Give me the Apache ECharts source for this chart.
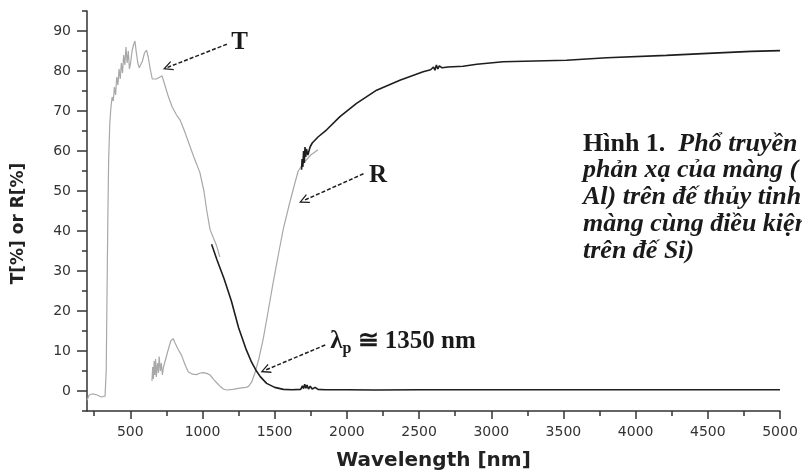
<!DOCTYPE html>
<html>
<head>
<meta charset="utf-8">
<script src="https://cdn.jsdelivr.net/npm/echarts@6/dist/echarts.min.js"></script>
<style>html,body{margin:0;padding:0;background:#fff}#c{width:802px;height:472px}</style>
</head>
<body>
<div id="c"></div>
<script>
// Tick values
const xMajorTicks = [500,1000,1500,2000,2500,3000,3500,4000,4500,5000];
const xMinorTicks = [250,750,1250,1750,2250,2750,3250,3750,4250,4750];
const yMajorTicks = [0,10,20,30,40,50,60,70,80,90];
const yMinorTicks = [-5,5,15,25,35,45,55,65,75,85,95];

// Transmission, visible detector (grey)
const tVis = [[200,-2.3],[215,-1],[240,-0.7],[270,-1],[300,-1.5],[325,-1.3],[333,5],[338,22],[344,42],[350,58],[358,67],[366,71],[374,73.5],[382,72.5],[390,76],[398,74],[406,78.5],[414,76.5],[422,80.5],[430,78],[438,82],[446,79.5],[454,84],[462,81.5],[470,86],[478,82],[486,85],[494,80.5],[502,82],[512,85],[522,86.5],[532,87.5],[542,84.5],[552,82],[562,80.8],[572,80.6],[584,82.5],[598,84.5],[612,85.2],[624,83.5],[638,80.5],[652,78],[662,77.7],[680,78],[700,78.4],[720,78.8],[735,77],[760,74],[790,71],[820,69],[844,67.8],[870,65.5],[900,62.5],[940,58.5],[982,54.6],[1010,50],[1030,45],[1052,40.4],[1075,38.3],[1098,36.3],[1120,33.5]];
// Transmission, IR detector (dark)
const tIr = [[1063,36.7],[1100,32.8],[1150,28],[1200,22.5],[1250,15.8],[1300,10.6],[1340,7.2],[1370,5.2],[1400,3.6],[1444,1.9],[1500,0.9],[1560,0.4],[1620,0.3],[1680,0.4],[1692,1.3],[1700,0.6],[1708,1.7],[1716,0.7],[1724,1.5],[1734,0.5],[1746,1.2],[1760,0.5],[1780,0.9],[1800,0.4],[1850,0.3],[2000,0.3],[2200,0.25],[2500,0.3],[3000,0.3],[3500,0.3],[4000,0.3],[4500,0.3],[5000,0.3]];
// Reflection, visible detector (grey)
const rVis = [[650,2.5],[655,6],[660,3],[665,7.5],[670,4],[675,8],[680,3.5],[688,7],[695,4.5],[700,8.6],[708,5],[715,7],[722,4],[730,6],[740,5.5],[760,10],[780,12.5],[797,13.1],[810,12],[830,10.5],[855,8.9],[880,6.5],[901,4.8],[930,4.2],[959,4.1],[985,4.5],[1005,4.6],[1030,4.4],[1052,4],[1080,2.8],[1100,2],[1121,1.2],[1145,0.5],[1167,0.25],[1210,0.4],[1259,0.7],[1300,0.9],[1317,1.1],[1340,2.2],[1363,4.5],[1390,8],[1421,13.1],[1455,20],[1490,27.2],[1525,34],[1559,40.4],[1600,46.5],[1640,52],[1663,55],[1700,57],[1750,59],[1800,60.3]];
// Reflection, IR detector (dark)
const rIr = [[1686,55.3],[1690,58],[1695,56],[1700,60],[1705,57],[1710,61],[1715,58.5],[1720,60.5],[1730,59],[1745,61],[1760,62],[1800,63.5],[1860,65.3],[1952,68.6],[2067,71.9],[2206,75.2],[2367,77.7],[2528,79.8],[2580,80.3],[2600,81],[2610,80.2],[2620,81.5],[2630,80.5],[2640,81.3],[2660,80.8],[2700,81],[2805,81.2],[2900,81.7],[3082,82.3],[3300,82.5],[3521,82.7],[3800,83.3],[4213,83.9],[4500,84.4],[4800,84.9],[5000,85.1]];

const grey = '#a8a8a8';
const dark = '#1e1e1e';
const axisColor = '#333';
const serif = '"Liberation Serif","DejaVu Serif",serif';
const sans = '"DejaVu Sans",sans-serif';

const chevron = 'path://M0,0 L6,10 L4.3,10 L0,2.8 L-4.3,10 L-6,10 Z';
const plain = v => String(v);

function lineSeries(data, color, width) {
  return {type:'line', data:data, showSymbol:false, symbol:'none', silent:true,
    lineStyle:{color:color, width:width}, xAxisIndex:0, yAxisIndex:0, z:3};
}

const chart = echarts.init(document.getElementById('c'), null, {renderer:'canvas'});
const arrowStyle = {color:dark, width:1.5, type:[4,2]};
const labelStyle = {fontFamily:serif, fontWeight:'bold', fontSize:25, color:'#1a1a1a'};

chart.setOption({
  animation:false,
  backgroundColor:'#fff',
  grid:{left:87, right:22, top:11, bottom:61, outerBoundsMode:'none', containLabel:false},
  xAxis:[{
    type:'value', min:200, max:5000, position:'bottom',
    name:'Wavelength [nm]', nameLocation:'middle', nameGap:40,
    nameTextStyle:{fontFamily:sans, fontWeight:'bold', fontSize:20, color:'#222'},
    axisLine:{show:true, onZero:false, lineStyle:{color:axisColor, width:1.5}},
    axisTick:{show:true, customValues:xMajorTicks, length:8, lineStyle:{color:axisColor, width:1.5}},
    axisLabel:{customValues:xMajorTicks, formatter:plain, fontFamily:sans, fontSize:14, color:'#333', margin:14},
    splitLine:{show:false}
  },{
    type:'value', min:200, max:5000, position:'bottom', offset:0,
    axisLine:{show:false, onZero:false},
    axisTick:{show:true, customValues:xMinorTicks, length:5, lineStyle:{color:axisColor, width:1.5}},
    axisLabel:{show:false}, splitLine:{show:false}
  }],
  yAxis:[{
    type:'value', min:-5, max:95, position:'left',
    name:'T[%] or R[%]', nameLocation:'middle', nameGap:60, nameRotate:90,
    nameTextStyle:{fontFamily:sans, fontWeight:'bold', fontSize:17, color:'#222', padding:[0,25,0,0]},
    axisLine:{show:true, onZero:false, lineStyle:{color:axisColor, width:1.5}},
    axisTick:{show:true, customValues:yMajorTicks, length:10, lineStyle:{color:axisColor, width:1.5}},
    axisLabel:{customValues:yMajorTicks, formatter:plain, fontFamily:sans, fontSize:14, color:'#333', margin:16},
    splitLine:{show:false}
  },{
    type:'value', min:-5, max:95, position:'left', offset:0,
    axisLine:{show:false, onZero:false},
    axisTick:{show:true, customValues:yMinorTicks, length:5, lineStyle:{color:axisColor, width:1.5}},
    axisLabel:{show:false}, splitLine:{show:false}
  }],
  series:[
    lineSeries(tVis, grey, 1.2),
    lineSeries(rVis, grey, 1.2),
    lineSeries(tIr, dark, 1.6),
    lineSeries(rIr, dark, 1.6),
    {
      type:'line', data:[], xAxisIndex:0, yAxisIndex:0, silent:true, z:5,
      markLine:{
        silent:true, symbol:['none', chevron], symbolSize:[10,10],
        label:{show:false}, lineStyle:arrowStyle,
        data:[
          [{coord:[1169,86.7]},{coord:[758,80.9]}],
          [{coord:[2115,54.3]},{coord:[1700,47.6]}],
          [{coord:[1850,11.5]},{coord:[1434,5.2]}]
        ]
      },
      markPoint:{
        silent:true, symbol:'circle', symbolSize:0,
        label:{show:true, position:'right', distance:0},
        data:[
          {coord:[1199,87.0], label:Object.assign({formatter:'T'}, labelStyle)},
          {coord:[2154,53.9], label:Object.assign({formatter:'R'}, labelStyle)},
          {coord:[1884,12.2], label:{formatter:'{a|λ}{s|p}{a| ≅ 1350 nm}',
            rich:{
              a:{fontFamily:serif, fontWeight:'bold', fontSize:25, color:'#1a1a1a', lineHeight:26, verticalAlign:'top'},
              s:{fontFamily:serif, fontWeight:'bold', fontSize:16, color:'#1a1a1a', lineHeight:16, verticalAlign:'top', padding:[12,0,0,0]}
            }}}
        ]
      }
    }
  ],
  graphic:[{
    type:'text', left:583, top:131, silent:true,
    style:{
      text:'{b|Hình 1.}{i|  Phổ truyền}\n{i|phản xạ của màng (}\n{i|Al) trên đế thủy tinh}\n{i|màng cùng điều kiện}\n{i|trên đế Si)}',
      rich:{
        b:{fontFamily:serif, fontWeight:'bold', fontSize:26, lineHeight:26.7, fill:'#1a1a1a'},
        i:{fontFamily:serif, fontWeight:'bold', fontStyle:'italic', fontSize:26, lineHeight:26.7, fill:'#1a1a1a'}
      }
    }
  }]
});
</script>
</body>
</html>
